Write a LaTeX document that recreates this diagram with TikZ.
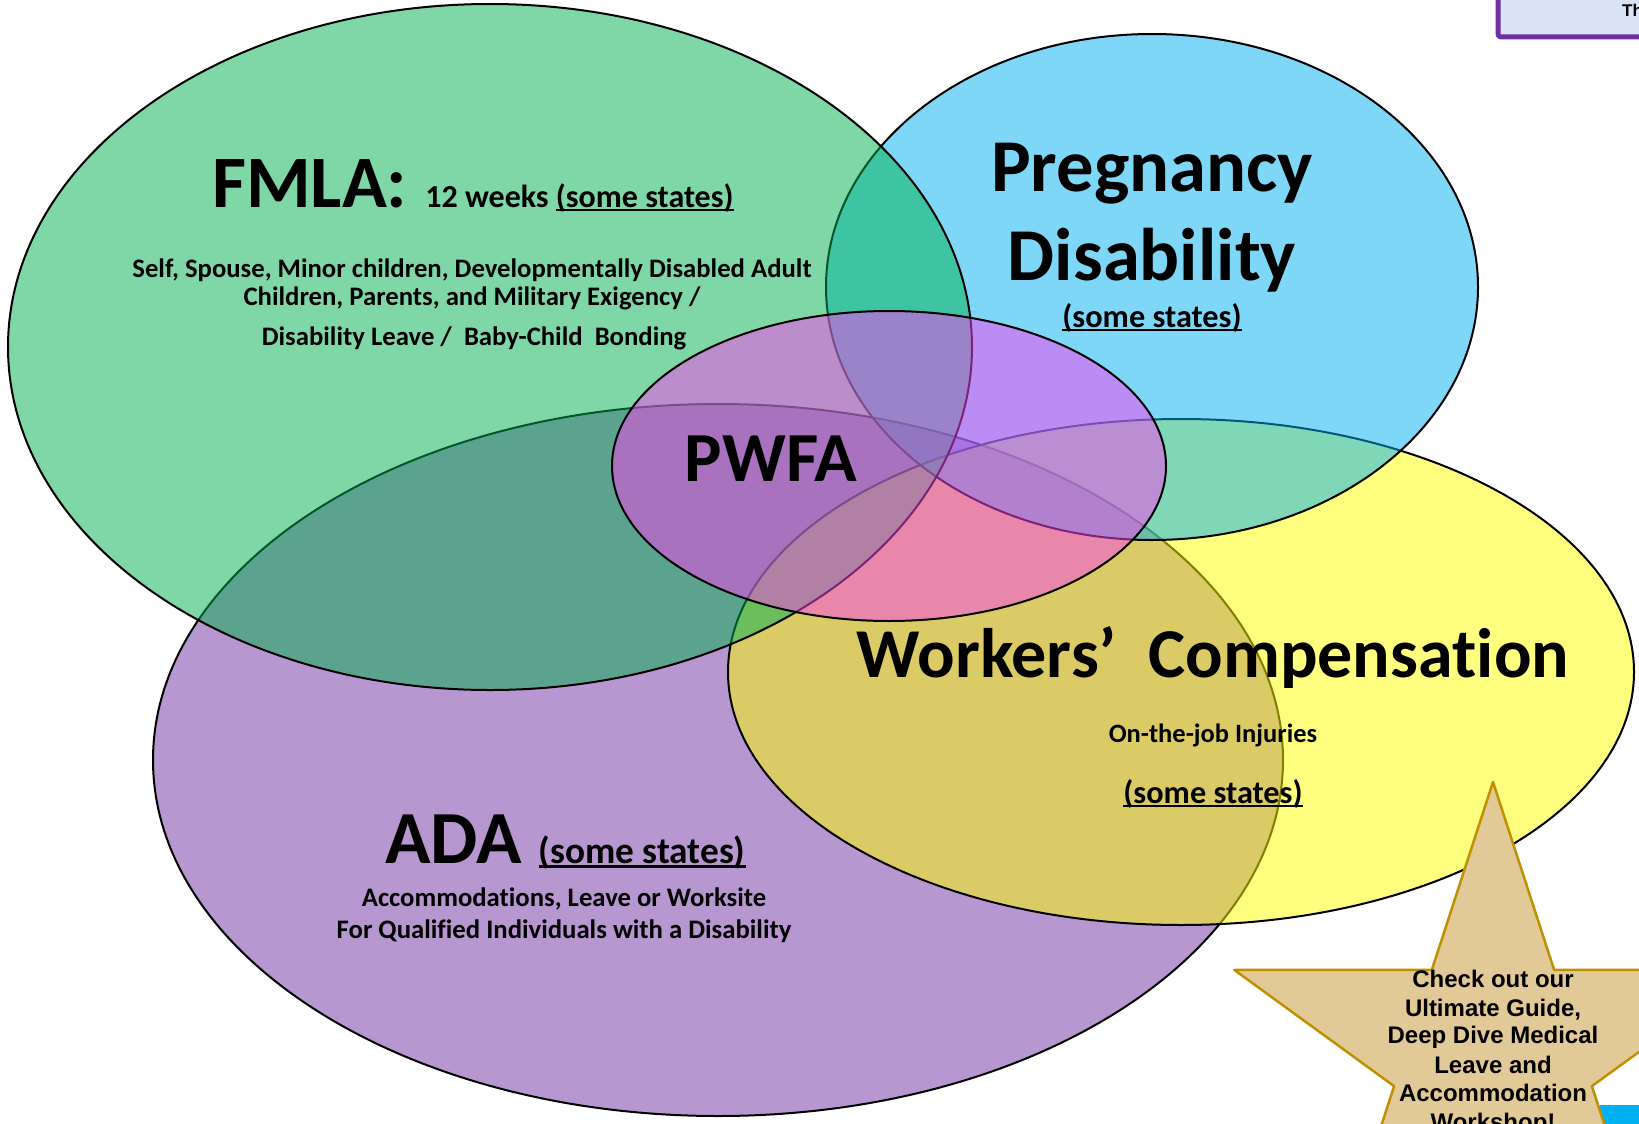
\documentclass[tikz,border=0pt]{standalone}
\usepackage{fontspec}
\setmainfont[Ligatures=CommonOff]{Carlito}
\newfontfamily\starfont{Liberation Sans}
\definecolor{fmlagreen}{RGB}{0,176,80}
\definecolor{pregblue}{RGB}{0,176,240}
\definecolor{adapurple}{RGB}{112,48,160}
\definecolor{wcyellow}{RGB}{255,255,0}
\definecolor{pwfapink}{RGB}{248,68,240}
\definecolor{parchment}{RGB}{226,201,152}
\definecolor{stargold}{RGB}{191,144,0}
\definecolor{boxblue}{RGB}{218,227,243}
\newcommand{\undr}[1]{\setbox0\hbox{#1}\leavevmode\rlap{\raisebox{-0.13em}{\rule{\wd0}{0.07em}}}\box0}
\tikzset{
	venn/.style={draw=black,line width=2pt,fill opacity=0.5},
	bigtext/.style={font=\fontsize{#1}{#1}\selectfont\bfseries,inner sep=0pt},
	startext/.style={font=\starfont\fontsize{24}{28}\selectfont\bfseries,inner sep=0pt,anchor=base}
}
\begin{document}
\begin{tikzpicture}[x=1pt,y=-1pt,line join=round,line cap=round]
		\useasboundingbox (0,0) rectangle (1639,1124);
		\clip (0,0) rectangle (1639,1124);
		%Ellipses
		\draw[venn,fill=adapurple] (718,760) ellipse [x radius=565pt,y radius=356pt];
		\draw[venn,fill=wcyellow] (1181,672) ellipse [x radius=453pt,y radius=253pt];
		\draw[venn,fill=pregblue] (1152,287) ellipse [x radius=326pt,y radius=253pt];
		\draw[venn,fill=fmlagreen] (490,347) ellipse [x radius=482pt,y radius=343pt];
		\draw[venn,fill=pwfapink] (889,466) ellipse [x radius=277pt,y radius=155pt];
		%FMLA
		\node[bigtext=74,anchor=base west] (fmla) at (212,207) {FMLA:\hspace{18pt}\fontsize{32}{32}\selectfont 12 weeks \undr{(some states)}};
		\node[bigtext=26.7,anchor=base] (fmlaA) at (472,277) {Self, Spouse, Minor children, Developmentally Disabled Adult};
		\node[bigtext=26.7,anchor=base] (fmlaB) at (472,305) {Children, Parents, and Military Exigency /};
		\node[bigtext=26.7,anchor=base] (fmlaC) at (474,345) {Disability Leave /\ \ Baby-Child\ \ Bonding};
		%Pregnancy
		\node[bigtext=74.6,anchor=base] (pregA) at (1152,191) {Pregnancy};
		\node[bigtext=74.6,anchor=base] (pregB) at (1152,280) {Disability};
		\node[bigtext=32.3,anchor=base] (pregC) at (1152,327) {\undr{(some states)}};
		%PWFA
		\node[bigtext=70.4,anchor=base] (pwfa) at (771,481) {PWFA};
		%Workers
		\node[bigtext=70,anchor=base] (wc) at (1213,677) {Workers’\ \ Compensation};
		\node[bigtext=26.5,anchor=base] (wcA) at (1213,742) {On-the-job Injuries};
		\node[bigtext=32.3,anchor=base] (wcB) at (1213,803) {\undr{(some states)}};
		%ADA
		\node[bigtext=75,anchor=base west] (ada) at (385,863) {ADA\hspace{17pt}\fontsize{37.3}{37.3}\selectfont\undr{(some states)}};
		\node[bigtext=26.7,anchor=base] (adaA) at (564,906) {Accommodations, Leave or Worksite};
		\node[bigtext=26.7,anchor=base] (adaB) at (564,938) {For Qualified Individuals with a Disability};
		%Corners
		\draw[adapurple,line width=5pt,fill=boxblue,rounded corners=3pt] (1498,-10) rectangle (1660,37);
		\node[font=\starfont\fontsize{17}{17}\selectfont\bfseries,inner sep=0pt,anchor=base west] (boxtext) at (1622,17) {Th};
		\fill[pregblue] (1600,1105) rectangle (1650,1130);
		%Star
		\draw[stargold,line width=2.5pt,fill=parchment,shift={(1493,1054)}] (-90:272) -- (-54:104) -- (-18:272) -- (18:104) -- (54:272) -- (90:104) -- (126:272) -- (162:104) -- (198:272) -- (234:104) -- cycle;
		\node[startext] (starA) at (1493,987) {Check out our};
		\node[startext] (starB) at (1493,1016) {Ultimate Guide,};
		\node[startext] (starC) at (1493,1043) {Deep Dive Medical};
		\node[startext] (starD) at (1493,1073) {Leave and};
		\node[startext] (starE) at (1493,1101) {Accommodation};
		\node[startext] (starF) at (1493,1130) {Workshop!};
	\end{tikzpicture}
\end{document}
